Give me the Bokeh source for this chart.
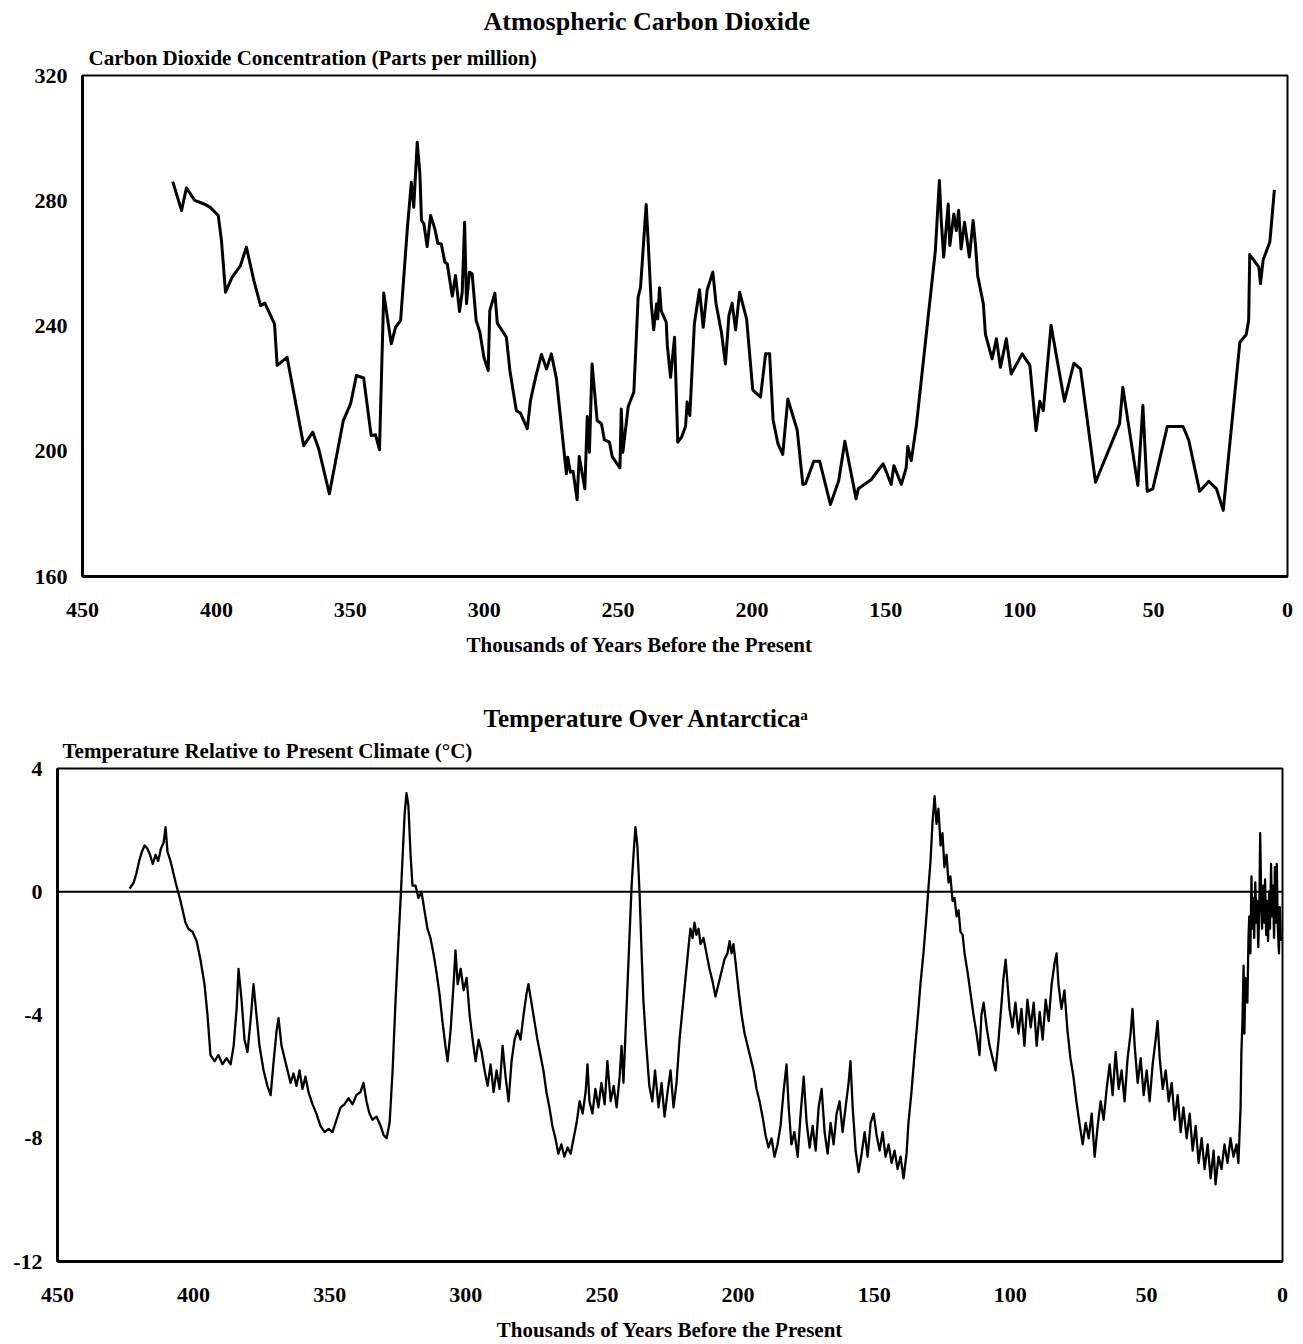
from bokeh.plotting import figure
from bokeh.models import Range1d, FixedTicker, Span, Title
from bokeh.embed import file_html
from bokeh.resources import INLINE

FONT = "Liberation Serif"

# ---------------- data ----------------
x_ticks = [0, 50, 100, 150, 200, 250, 300, 350, 400, 450]
co2_ticks = [160, 200, 240, 280, 320]
temp_ticks = [-12, -8, -4, 0, 4]
temp_tick_text = {-12: "-12", -8: "-8", -4: "-4", 0: "0", 4: "4"}

# CO2 (thousands of years before present, ppm)
co2_age = [416.3, 413.0, 411.2, 408.1, 404.1, 402.2, 399.3, 398.1, 396.6, 394.1,
           391.0, 388.8, 386.0, 383.5, 381.9, 378.3, 377.3, 373.6, 367.4, 364.0,
           361.8, 357.8, 352.6, 349.9, 347.7, 345.0, 342.2, 340.6, 339.1, 337.5,
           334.7, 333.1, 331.2, 328.7, 327.2, 326.3, 325.0, 324.0, 323.4, 322.5,
           321.3, 320.0, 318.4, 317.3, 316.0, 314.7, 313.8, 311.9, 310.7, 309.2,
           308.2, 307.3, 306.6, 305.5, 304.5, 303.0, 301.6, 300.1, 298.5, 297.9,
           296.0, 295.1, 291.7, 290.4, 288.0, 286.4, 283.9, 282.7, 280.8, 278.6,
           276.7, 274.9, 273.0, 269.3, 268.8, 267.8, 266.8, 265.3, 264.5, 262.4,
           261.5, 260.7, 259.7, 257.8, 256.2, 255.1, 253.2, 252.2, 249.3, 248.8,
           248.2, 246.2, 244.1, 242.5, 241.6, 239.5, 238.9, 237.6, 236.7, 235.6,
           235.2, 234.5, 233.9, 232.0, 231.6, 230.4, 228.9, 227.7, 226.3, 224.8,
           224.2, 223.2, 221.5, 219.6, 218.2, 216.7, 214.6, 213.4, 211.4, 209.9,
           208.6, 207.4, 206.1, 204.6, 202.0, 199.7, 196.8, 194.9, 193.4, 192.1,
           190.3, 188.5, 186.6, 183.1, 181.0, 180.0, 176.9, 174.7, 170.7, 167.6,
           165.3, 161.1, 160.3, 155.5, 151.0, 148.0, 147.0, 144.2, 142.4, 141.8,
           140.5, 138.6, 131.5, 130.0, 129.3, 128.4, 126.7, 126.1, 124.6, 123.7,
           122.8, 121.9, 120.6, 118.8, 117.4, 116.5, 115.7, 113.6, 112.8, 110.3,
           108.7, 107.2, 105.0, 103.2, 99.1, 96.2, 93.9, 92.5, 91.2, 88.3,
           83.3, 79.8, 77.3, 71.7, 62.7, 61.5, 55.9, 54.0, 52.4, 50.3,
           44.9, 39.0, 36.9, 32.8, 29.4, 26.5, 24.0, 17.8, 15.4, 14.5,
           14.1, 10.7, 10.1, 9.1, 6.6, 4.9]
co2_ppm = [286.1, 276.9, 284.1, 280.1, 278.8, 277.8, 275.3, 267.3, 250.8, 255.6,
           259.3, 265.2, 254.5, 246.5, 247.3, 240.7, 227.4, 230.0, 201.8, 206.1,
           200.8, 186.4, 209.8, 215.1, 224.2, 223.4, 205.0, 205.3, 200.5, 250.5,
           234.3, 239.6, 241.8, 271.0, 285.9, 277.9, 298.7, 288.6, 273.7, 272.6,
           265.4, 275.3, 271.0, 266.4, 266.2, 260.4, 259.9, 249.5, 256.1, 244.6,
           250.8, 273.1, 247.1, 257.2, 256.7, 241.8, 238.0, 230.0, 225.8, 244.9,
           250.5, 240.9, 236.4, 225.8, 213.0, 212.1, 207.2, 216.2, 223.6, 230.9,
           226.3, 231.1, 223.1, 192.8, 198.1, 193.3, 193.6, 184.5, 198.3, 188.0,
           211.1, 199.7, 227.9, 209.8, 208.8, 203.6, 202.9, 198.3, 194.7, 213.5,
           199.7, 214.3, 218.9, 249.2, 252.4, 278.8, 269.4, 247.1, 238.8, 247.1,
           242.3, 252.2, 244.9, 241.2, 233.8, 223.6, 236.4, 202.9, 204.5, 207.9,
           215.7, 211.4, 240.7, 251.6, 239.6, 251.6, 257.2, 247.1, 238.0, 227.9,
           243.3, 247.3, 238.8, 250.8, 242.3, 219.6, 217.3, 231.1, 231.1, 210.0,
           202.4, 199.0, 216.7, 206.8, 189.4, 189.6, 196.8, 196.8, 183.0, 190.6,
           203.2, 184.8, 188.0, 190.9, 196.0, 189.4, 195.4, 189.4, 194.7, 201.5,
           197.0, 208.2, 264.1, 286.5, 273.7, 262.0, 279.0, 265.7, 275.8, 270.5,
           276.9, 264.6, 273.1, 262.0, 273.7, 265.7, 256.1, 247.1, 237.3, 229.5,
           235.9, 226.8, 235.9, 224.7, 231.1, 227.4, 206.6, 216.0, 213.0, 240.2,
           216.0, 228.1, 226.3, 190.1, 208.8, 220.4, 189.1, 214.6, 187.2, 188.0,
           207.9, 207.9, 203.6, 187.2, 190.4, 188.0, 181.1, 234.8, 237.3, 241.8,
           262.8, 258.8, 253.5, 261.1, 266.8, 283.5]

# Temperature relative to present (thousands of years BP, deg C)
temp_age = [423.5, 422, 421, 420, 419, 418, 417, 416, 415, 414,
            413, 412, 411, 410.3, 409.6, 408.5, 406.6, 404.8, 403, 401.9,
            400.4, 398.9, 397.5, 396, 394.9, 393.8, 392.3, 390.9, 389.4, 387.9,
            386.4, 385.3, 384.2, 383.5, 382.4, 381.3, 380.2, 379.1, 378, 376.9,
            375.8, 374.3, 372.9, 371.7, 370.6, 369.5, 368.8, 367.7, 366.6, 365.5,
            364.4, 363.3, 362.2, 361.1, 360, 358.9, 357.8, 356.3, 354.9, 353.4,
            351.9, 350.4, 349, 347.5, 346, 344.6, 343.1, 341.6, 340.2, 338.7,
            337.6, 336.5, 335.4, 334.3, 332.8, 331.3, 330.2, 329.1, 328, 326.9,
            325.8, 324.7, 324, 323.3, 322.5, 321.8, 321.1, 320.3, 319.6, 318.5,
            317.4, 316.3, 315.2, 314.1, 313, 311.9, 310.8, 309.7, 308.6, 307.5,
            306.7, 305.6, 304.5, 303.8, 303, 301.9, 300.8, 299.7, 298.6, 297.5,
            296.4, 295.3, 294.2, 293.1, 292, 290.9, 289.8, 288.7, 287.6, 286.5,
            285.4, 284.3, 283.2, 282.1, 281, 279.9, 278.8, 277.7, 277, 275.9,
            274.8, 273.7, 272.6, 271.5, 270.4, 269.3, 268.2, 267.1, 266, 264.9,
            263.8, 262.6, 261.5, 260.4, 259.3, 258.2, 257.1, 256, 255.3, 254.6,
            253.5, 252.4, 251.3, 250.2, 249, 248, 246.8, 245.7, 244.6, 243.5,
            242.8, 242.1, 241.3, 240.6, 239.9, 239.1, 238.4, 237.7, 237, 236.2,
            235.5, 234.8, 233.7, 232.6, 231.5, 230.5, 229.2, 228.1, 227, 225.9,
            224.8, 223.7, 222.6, 221.5, 220.4, 219.3, 218.2, 217.5, 216.7, 216,
            215.3, 214.5, 213.8, 212.7, 211.6, 210.5, 209.4, 208.3, 207.2, 206.1,
            205, 203.9, 203.1, 202.4, 201.7, 200.9, 199.8, 198.7, 197.6, 196.5,
            195.4, 194.3, 193.2, 192.1, 191, 189.9, 188.8, 187.7, 186.6, 185.5,
            184.4, 183.3, 182.2, 181.4, 180.4, 179.3, 178.1, 177, 175.9, 174.8,
            173.7, 172.6, 171.5, 170.4, 169.3, 168.2, 167.1, 166, 164.9, 163.8,
            162.7, 161.6, 160.5, 159.4, 158.7, 157.9, 156.8, 155.7, 154.6, 153.5,
            152.4, 151.3, 150.2, 149.1, 148, 146.9, 145.8, 144.7, 143.6, 142.5,
            141.4, 140.3, 139.2, 138.1, 137.4, 136.3, 135.2, 134.1, 133, 131.9,
            130.8, 130, 129.3, 128.6, 127.8, 127.1, 126.4, 125.6, 124.9, 124.2,
            123.4, 122.7, 122, 121.2, 120.5, 119.7, 119, 118.3, 117.5, 116.8,
            115.7, 114.6, 113.5, 112.4, 111.3, 110.6, 109.8, 108.7, 107.6, 106.5,
            105.4, 104.3, 103.2, 102.5, 101.7, 101, 100.3, 99.2, 98.1, 97,
            95.9, 94.8, 93.7, 92.5, 91.4, 90.3, 89.2, 88.1, 87, 85.9,
            84.8, 83.7, 83, 82.3, 81.2, 80.1, 79, 77.9, 76.8, 75.7,
            74.6, 73.4, 72.3, 71.2, 70.1, 69, 67.9, 66.8, 65.7, 64.6,
            63.5, 62.4, 61.3, 60.2, 59.1, 58, 56.9, 55.8, 55.1, 54.3,
            53.2, 52.1, 51, 49.9, 48.8, 47.7, 46.6, 45.9, 45.1, 44,
            42.9, 41.8, 40.7, 39.6, 38.5, 37.4, 36.4, 35.2, 34.1, 33,
            31.9, 30.8, 29.7, 28.6, 27.5, 26.4, 25.3, 24.6, 23.5, 22.4,
            21.3, 20.2, 19.1, 18, 16.9, 16.2, 15.4, 15.1, 14.7, 14.3,
            14, 13.6, 12.9, 12.5, 12.2, 11.8, 11.4, 11.1, 10.7, 10.4,
            10, 9.6, 9.3, 8.9, 8.5, 8.2, 7.8, 7.5, 7.1, 6.7,
            6.4, 6, 5.7, 5.3, 4.9, 4.6, 4.2, 3.9, 3.5, 3.1,
            2.8, 2.4, 2.1, 1.7, 1.3, 1.0, 0.6]
temp_c = [0.1, 0.3, 0.6, 1.0, 1.3, 1.5, 1.4, 1.2, 0.9, 1.2,
          1.0, 1.4, 1.6, 2.1, 1.3, 1.0, 0.3, -0.3, -1.0, -1.2,
          -1.3, -1.6, -2.2, -3.0, -4.0, -5.3, -5.5, -5.3, -5.6, -5.4,
          -5.6, -5.0, -3.8, -2.5, -3.5, -4.8, -5.2, -4.2, -3.0, -4.0,
          -5.0, -5.8, -6.3, -6.6, -5.5, -4.5, -4.1, -5.0, -5.4, -5.8,
          -6.2, -5.9, -6.3, -5.8, -6.4, -6.0, -6.5, -6.9, -7.2, -7.6,
          -7.8, -7.7, -7.8, -7.4, -7.0, -6.9, -6.7, -6.9, -6.6, -6.5,
          -6.2, -6.8, -7.2, -7.4, -7.3, -7.6, -7.9, -8.0, -7.5, -5.8,
          -3.5, -1.5, -0.3, 1.0, 2.5, 3.2, 2.8, 1.2, 0.2, 0.2,
          -0.2, 0.0, -0.6, -1.2, -1.5, -2.0, -2.6, -3.3, -4.2, -5.0,
          -5.5, -4.5, -3.0, -1.9, -3.0, -2.5, -3.2, -2.8, -4.0, -4.8,
          -5.5, -4.8, -5.2, -5.8, -6.3, -5.6, -6.5, -5.8, -6.4, -5.0,
          -6.0, -6.8, -5.5, -4.8, -4.5, -4.8, -4.0, -3.3, -3.0, -3.6,
          -4.2, -4.8, -5.3, -5.8, -6.5, -7.0, -7.6, -8.0, -8.5, -8.2,
          -8.6, -8.3, -8.5, -8.0, -7.5, -6.8, -7.2, -6.5, -5.6, -6.8,
          -7.2, -6.4, -7.0, -6.2, -6.9, -5.5, -6.8, -6.3, -7.0, -6.0,
          -5.0, -6.2, -4.5, -3.0, -1.5, 0.2, 1.2, 2.1, 1.5, 0.0,
          -1.8, -3.5, -5.0, -6.3, -6.8, -5.8, -7.0, -6.2, -7.3, -6.5,
          -5.8, -7.0, -6.2, -4.8, -3.8, -2.8, -1.8, -1.2, -1.5, -1.0,
          -1.4, -1.2, -1.7, -1.5, -2.0, -2.5, -2.9, -3.4, -3.0, -2.6,
          -2.2, -2.0, -1.6, -2.0, -1.7, -2.3, -3.2, -4.0, -4.6, -5.0,
          -5.4, -5.8, -6.4, -6.8, -7.3, -7.9, -8.3, -8.0, -8.6, -8.2,
          -7.6, -6.5, -5.6, -7.0, -8.2, -7.8, -8.6, -7.2, -6.0, -7.5,
          -8.3, -7.6, -8.4, -7.0, -6.4, -7.8, -8.5, -7.5, -8.2, -7.2,
          -6.8, -7.8, -7.0, -6.2, -5.5, -7.0, -8.4, -9.1, -8.5, -7.8,
          -8.6, -7.5, -7.2, -7.9, -8.4, -7.8, -8.6, -8.2, -8.8, -8.4,
          -9.0, -8.6, -9.3, -8.5, -7.5, -6.5, -5.3, -4.2, -3.0, -2.0,
          -0.8, 0.2, 1.0, 2.2, 3.1, 2.2, 2.7, 1.5, 1.9, 0.8,
          1.2, 0.3, 0.5, -0.3, -0.2, -0.8, -0.6, -1.3, -1.4, -2.0,
          -2.6, -3.3, -4.0, -4.6, -5.3, -4.0, -3.6, -4.4, -5.0, -5.4,
          -5.8, -4.8, -3.6, -2.8, -2.2, -3.0, -3.8, -4.4, -3.6, -4.6,
          -3.8, -5.0, -3.5, -4.4, -3.6, -5.0, -3.9, -4.8, -3.5, -4.2,
          -3.0, -2.3, -2.0, -3.0, -3.8, -3.2, -4.5, -5.4, -6.0, -6.8,
          -7.5, -8.2, -7.5, -8.0, -7.2, -8.6, -7.6, -6.8, -7.4, -6.4,
          -5.6, -6.6, -5.2, -6.4, -5.8, -6.8, -5.4, -4.6, -3.8, -5.0,
          -6.2, -5.4, -6.6, -5.8, -6.8, -5.6, -4.8, -4.2, -5.4, -6.4,
          -5.8, -6.8, -6.2, -7.4, -6.6, -7.8, -7.0, -8.0, -7.2, -8.4,
          -7.6, -8.8, -8.0, -9.0, -8.2, -9.3, -8.4, -9.5, -8.6, -9.0,
          -8.2, -8.8, -8.0, -8.6, -8.2, -8.8, -7.0, -5.2, -4.2, -2.4,
          -4.6, -2.8, -3.6, -1.5, -0.8, -2.0, 0.5, -1.2, -0.2, -1.5,
          0.3, -1.0, -0.3, -1.8, -0.5, 1.9, -0.2, -1.2, 0.2, -1.0,
          0.4, -1.4, -0.3, -1.6, 0.0, -1.2, 0.9, -0.8, 0.2, -1.5,
          0.8, -1.0, 0.9, -1.2, -2.0, -0.5, -1.6]

X_TITLE = "Thousands of Years Before the Present"


def style_axes(p):
    for ax in (p.xaxis[0], p.yaxis[0]):
        ax.major_label_text_font = FONT
        ax.major_label_text_font_style = "bold"
        ax.major_label_text_font_size = "22px"
        ax.major_label_text_color = "black"
        ax.major_tick_out = 0
        ax.major_tick_in = 0
        ax.minor_tick_out = 0
        ax.minor_tick_in = 0
        ax.axis_line_width = 3
        ax.axis_line_color = "black"
    p.xaxis[0].major_label_standoff = 26
    p.yaxis[0].major_label_standoff = 15
    p.xgrid.visible = False
    p.ygrid.visible = False
    p.outline_line_color = "black"
    p.outline_line_width = 2


def add_title(p, side, text, size, offset, standoff):
    p.add_layout(Title(text=text, text_font=FONT, text_font_style="bold",
                       text_font_size=size, text_color="black",
                       align="left", vertical_align="middle",
                       offset=offset, standoff=standoff), side)


# ---------------- top chart ----------------
p1 = figure(frame_width=1205, frame_height=501,
            min_border_left=82, min_border_right=14,
            min_border_top=75, min_border_bottom=100,
            x_range=Range1d(450, 0), y_range=Range1d(160, 320),
            output_backend="svg", toolbar_location=None,
            background_fill_color="white", border_fill_color="white")
p1.xaxis.ticker = FixedTicker(ticks=x_ticks)
p1.yaxis.ticker = FixedTicker(ticks=co2_ticks)
style_axes(p1)
p1.line(co2_age, co2_ppm, line_color="black", line_width=3, line_join="round")
add_title(p1, "above", "Carbon Dioxide Concentration (Parts per million)", "21px", 6, 10)
add_title(p1, "above", "Atmospheric Carbon Dioxide", "26px", 401, 6)
add_title(p1, "below", X_TITLE, "21px", 384, 24)

# ---------------- bottom chart ----------------
p2 = figure(frame_width=1225, frame_height=493,
            min_border_left=57, min_border_right=19,
            min_border_top=92, min_border_bottom=83,
            x_range=Range1d(450, 0), y_range=Range1d(-12, 4),
            output_backend="svg", toolbar_location=None,
            background_fill_color="white", border_fill_color="white")
p2.xaxis.ticker = FixedTicker(ticks=x_ticks)
p2.yaxis.ticker = FixedTicker(ticks=temp_ticks)
p2.yaxis.major_label_overrides = temp_tick_text
style_axes(p2)
p2.xaxis.axis_label = X_TITLE
p2.xaxis.axis_label_text_font = FONT
p2.xaxis.axis_label_text_font_style = "bold"
p2.xaxis.axis_label_text_font_size = "21px"
p2.xaxis.axis_label_text_color = "black"
p2.xaxis.axis_label_standoff = 13
p2.add_layout(Span(location=0, dimension="width", line_color="black", line_width=2))
p2.line(temp_age, temp_c, line_color="black", line_width=2.3, line_join="round")
add_title(p2, "above", "Temperature Relative to Present Climate (°C)", "21px", 5, 10)
add_title(p2, "above", "Temperature Over Antarctica\u1d43", "25px", 426, 0)

open("out.html", "w").write(file_html([p1, p2], INLINE, "Atmospheric Carbon Dioxide and Temperature"))
